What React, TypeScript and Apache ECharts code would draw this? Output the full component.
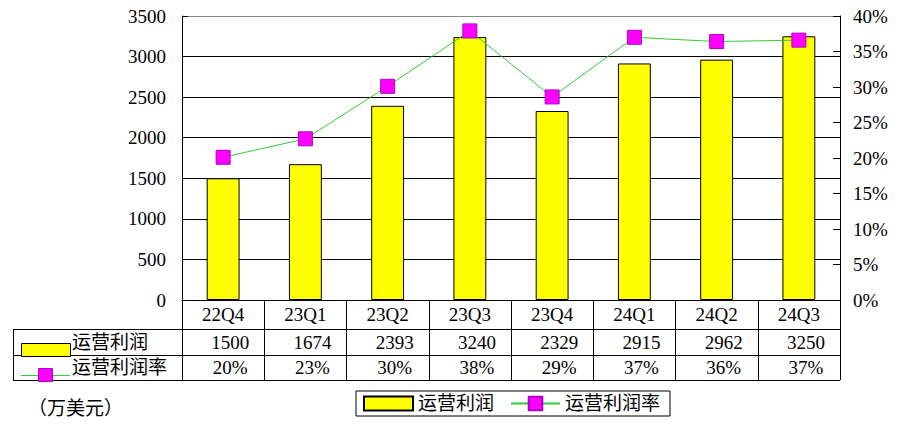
import React, { useEffect, useRef } from 'react';
import * as echarts from 'echarts';

const categories = ['22Q4', '23Q1', '23Q2', '23Q3', '23Q4', '24Q1', '24Q2', '24Q3'];
const operatingProfit = [1500, 1674, 2393, 3240, 2329, 2915, 2962, 3250];
const operatingMargin = [20.1, 22.7, 30.1, 37.9, 28.6, 37.0, 36.4, 36.6];
const seriesNames = ['运营利润', '运营利润率'];
const unitLabel = '（万美元）';

const FONT = "'Liberation Serif', 'Noto Sans CJK SC', serif";
const FS = 19;

// layout
const W = 912;
const H = 443;
const gridLeft = 182;
const gridRight = 840;
const gridTop = 16;
const axisY = 300;
const catRowH = 29;
const row1H = 26;
const row2H = 25;
const tableLeft = 13;

export default function App() {
  const ref = useRef<HTMLDivElement>(null);
  useEffect(() => {
    document.body.style.margin = '0';
    if (!ref.current) return;
    const chart = echarts.init(ref.current, undefined, { renderer: 'svg' });
    const marginLabels = operatingMargin.map((v) => `${Math.round(v)}%`);
    const r1 = axisY + catRowH;
    const r2 = r1 + row1H;
    const r3 = r2 + row2H;
    const textStyle = { fontFamily: FONT, fontSize: FS, color: '#000' };
    const hLine = (y: number) => ({
      type: 'line',
      shape: { x1: tableLeft, y1: y + 0.5, x2: gridRight, y2: y + 0.5 },
      style: { stroke: '#000', lineWidth: 1 },
      silent: true,
    });
    chart.setOption({
      animation: false,
      backgroundColor: '#fff',
      textStyle: { fontFamily: FONT },
      grid: { left: gridLeft, right: W - gridRight, top: gridTop, bottom: H - axisY, containLabel: false },
      legend: {
        left: 356,
        top: 391,
        orient: 'horizontal',
        borderColor: '#000',
        borderWidth: 1,
        padding: [3, 10, 3, 7],
        itemWidth: 49,
        itemHeight: 17,
        itemGap: 16,
        textStyle: { ...textStyle },
        data: [
          { name: seriesNames[0], icon: 'path://M0,0H49V14H0Z' },
          { name: seriesNames[1] },
        ],
      },
      xAxis: {
        type: 'category',
        data: categories,
        boundaryGap: true,
        axisLine: { show: true, lineStyle: { color: '#000', width: 1 } },
        axisTick: { show: true, inside: false, length: catRowH + row1H + row2H, lineStyle: { color: '#000', width: 1 } },
        axisLabel: {
          interval: 0,
          margin: 0,
          hideOverlap: false,
          formatter: (value: string, idx: number) =>
            `{c|${value}}\n{v|${operatingProfit[idx]}}\n{p|${marginLabels[idx]}}`,
          rich: {
            c: { ...textStyle, lineHeight: catRowH },
            v: { ...textStyle, lineHeight: row1H, padding: [0, 0, 0, 14] },
            p: { ...textStyle, lineHeight: row2H, padding: [0, 0, 0, 14] },
          },
        },
        splitLine: { show: false },
      },
      yAxis: [
        {
          type: 'value',
          min: 0,
          max: 3500,
          interval: 500,
          axisLine: { show: true, lineStyle: { color: '#000', width: 1 } },
          axisTick: { show: true, inside: true, length: 6, lineStyle: { color: '#000' } },
          axisLabel: { ...textStyle, margin: 16, formatter: (v: number) => String(v) },
          splitLine: {
            show: true,
            lineStyle: { color: ['#000', '#000', '#000', '#000', '#000', '#000', '#000', '#888'], width: 1 },
          },
        },
        {
          type: 'value',
          min: 0,
          max: 40,
          interval: 5,
          position: 'right',
          axisLine: { show: true, lineStyle: { color: '#000', width: 1 } },
          axisTick: { show: true, inside: true, length: 7, lineStyle: { color: '#000' } },
          axisLabel: { ...textStyle, margin: 13, formatter: '{value}%' },
          splitLine: { show: false },
        },
      ],
      series: [
        {
          name: seriesNames[0],
          type: 'bar',
          data: operatingProfit,
          barWidth: '40%',
          itemStyle: { color: '#FFFF00', borderColor: '#000', borderWidth: 1 },
          yAxisIndex: 0,
        },
        {
          name: seriesNames[1],
          type: 'line',
          data: operatingMargin,
          yAxisIndex: 1,
          symbol: 'rect',
          symbolSize: 14,
          itemStyle: { color: '#FF00FF', borderColor: '#B000D0', borderWidth: 1 },
          lineStyle: { color: '#33CC33', width: 1 },
          z: 5,
        },
      ],
      graphic: [
        hLine(r1),
        hLine(r2),
        hLine(r3),
        {
          type: 'line',
          shape: { x1: tableLeft + 0.5, y1: r1, x2: tableLeft + 0.5, y2: r3 + 1 },
          style: { stroke: '#000', lineWidth: 1 },
          silent: true,
        },
        {
          type: 'rect',
          shape: { x: 21.5, y: r1 + 14.5, width: 49, height: 13 },
          style: { fill: '#FFFF00', stroke: '#000', lineWidth: 1 },
          silent: true,
        },
        {
          type: 'text',
          x: 72,
          y: r1 + row1H / 2,
          style: { text: seriesNames[0], ...textStyle, fill: '#000', verticalAlign: 'middle' },
          silent: true,
        },
        {
          type: 'line',
          shape: { x1: 21, y1: r2 + 20.5, x2: 70, y2: r2 + 20.5 },
          style: { stroke: '#33CC33', lineWidth: 1 },
          silent: true,
        },
        {
          type: 'rect',
          shape: { x: 38.5, y: r2 + 13.5, width: 14, height: 13 },
          style: { fill: '#FF00FF', stroke: '#B000D0', lineWidth: 1 },
          silent: true,
        },
        {
          type: 'text',
          x: 72,
          y: r2 + row2H / 2,
          style: { text: seriesNames[1], ...textStyle, fill: '#000', verticalAlign: 'middle' },
          silent: true,
        },
        {
          type: 'text',
          x: 28,
          y: 408,
          style: { text: unitLabel, ...textStyle, fill: '#000', verticalAlign: 'middle' },
          silent: true,
        },
      ],
    });
    return () => chart.dispose();
  }, []);
  return (
    <div
      ref={ref}
      style={{ width: W, height: H, position: 'fixed', left: 0, top: 0, background: '#fff' }}
    />
  );
}
